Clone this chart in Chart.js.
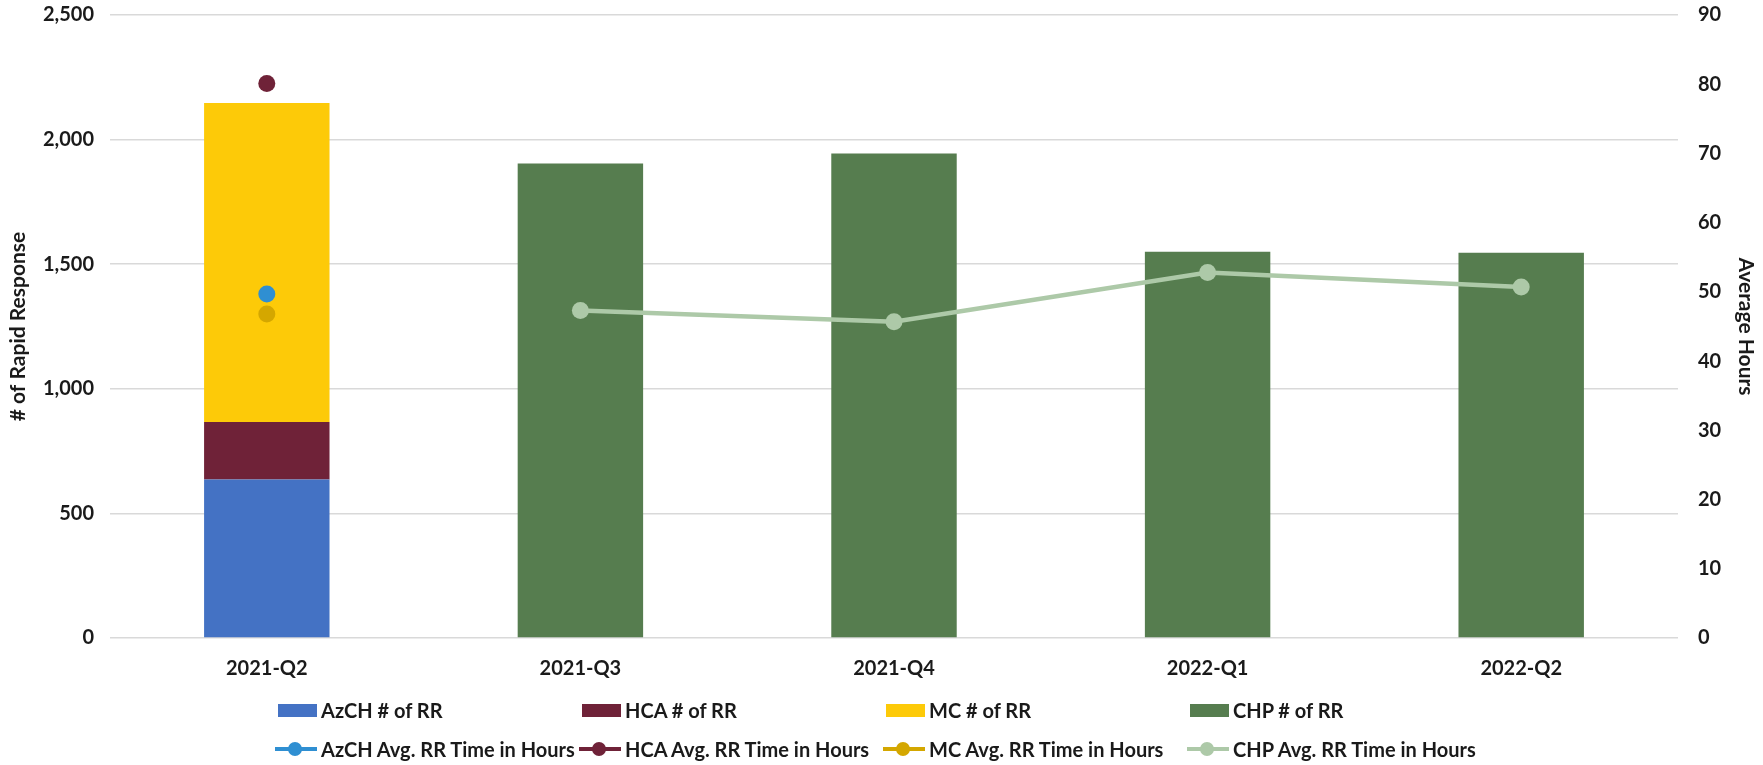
<!DOCTYPE html>
<html lang="en">
<head>
    <meta charset="UTF-8">
    <title>Rapid Response by Quarter</title>
    <script src="https://cdn.jsdelivr.net/npm/chart.js"></script>
    <style>
        body { margin: 0; background: #fff; }
        #wrap { position: relative; width: 1763px; height: 765px; }
        #legend {
            position: absolute; left: 275px; top: 697px;
            display: grid; grid-template-columns: repeat(4, 304px); row-gap: 13px;
            font: bold 20px Lato, sans-serif; color: #1a1a1a;
        }
        .item { display: flex; align-items: center; height: 26px; white-space: nowrap; }
        .icon { position: relative; width: 42px; height: 26px; margin-right: 4px; flex: none; }
        .box { position: absolute; left: 3px; top: 7px; width: 39px; height: 13px; }
        .line { position: absolute; left: 0; top: 11px; width: 42px; height: 4px; }
        .dot { position: absolute; left: 13px; top: 6px; width: 14px; height: 14px; border-radius: 50%; }
    </style>
</head>
<body>
<div id="wrap">
    <canvas id="chart" width="1763" height="765"></canvas>
    <div id="legend"></div>
</div>
<script>
    const quarters = ['2021-Q2', '2021-Q3', '2021-Q4', '2022-Q1', '2022-Q2'];

    // # of rapid responses (left axis)
    const azchCount = [636, null, null, null, null];
    const hcaCount = [231, null, null, null, null];
    const mcCount = [1280, null, null, null, null];
    const chpCount = [null, 1904, 1944, 1550, 1546];

    // average RR time in hours (right axis)
    const azchHours = [49.7, null, null, null, null];
    const hcaHours = [80.1, null, null, null, null];
    const mcHours = [46.8, null, null, null, null];
    const chpHours = [null, 47.3, 45.7, 52.8, 50.7];

    const leftTicks = [0, 500, 1000, 1500, 2000, 2500];
    const rightTicks = [0, 10, 20, 30, 40, 50, 60, 70, 80, 90];

    const txt = '#1a1a1a';
    const tickFont = { family: 'Lato', weight: 'bold', size: 20 };
    const titleFont = { family: 'Lato', weight: 'bold', size: 21 };

    function bar(label, data, color) {
        return { type: 'bar', label, data, backgroundColor: color, yAxisID: 'y', order: 2,
                 barPercentage: 0.4, categoryPercentage: 1.0 };
    }
    function line(label, data, color) {
        return { type: 'line', label, data, borderColor: color, backgroundColor: color, yAxisID: 'y1', order: 1,
                 borderWidth: 4.5, pointRadius: 8.5, pointHoverRadius: 8.5, pointBorderWidth: 0 };
    }

    const datasets = [
        bar('AzCH # of RR', azchCount, '#4472C4'),
        bar('HCA # of RR', hcaCount, '#6F2238'),
        bar('MC # of RR', mcCount, '#FDCA08'),
        bar('CHP # of RR', chpCount, '#567D4F'),
        line('AzCH Avg. RR Time in Hours', azchHours, '#2F8FD2'),
        line('HCA Avg. RR Time in Hours', hcaHours, '#6F2238'),
        line('MC Avg. RR Time in Hours', mcHours, '#D4A700'),
        line('CHP Avg. RR Time in Hours', chpHours, '#ADC9A8')
    ];

    // vertical axes: fixed width, no extra top/bottom padding for the labels
    const fixWidth = w => s => { s.width = w; s.paddingTop = 0; s.paddingBottom = 0; };

    const chart = new Chart(document.getElementById('chart'), {
        data: { labels: quarters, datasets },
        options: {
            responsive: false,
            animation: false,
            layout: { padding: { top: 15, bottom: 87, left: 0, right: 0 } },
            plugins: { legend: { display: false }, tooltip: { enabled: false } },
            scales: {
                x: {
                    stacked: true,
                    grid: { display: false },
                    border: { display: false },
                    ticks: { color: txt, font: tickFont, padding: 11 },
                    afterFit: s => { s.height = 40; }
                },
                y: {
                    stacked: true,
                    position: 'left',
                    min: 0, max: 2500,
                    afterBuildTicks: s => { s.ticks = leftTicks.map(v => ({ value: v })); },
                    grid: { color: '#d9d9d9', lineWidth: 1.5, drawTicks: false },
                    border: { display: false },
                    ticks: { color: txt, font: tickFont, padding: 16,
                             callback: v => v.toLocaleString('en-US') },
                    title: { display: true, text: '# of Rapid Response', color: txt, font: titleFont, padding: 6 },
                    afterFit: fixWidth(110)
                },
                y1: {
                    stacked: false,
                    position: 'right',
                    min: 0, max: 90,
                    afterBuildTicks: s => { s.ticks = rightTicks.map(v => ({ value: v })); },
                    grid: { display: false, drawTicks: false },
                    border: { display: false },
                    ticks: { color: txt, font: tickFont, padding: 20 },
                    title: { display: true, text: 'Average Hours', color: txt, font: titleFont, padding: 5 },
                    afterFit: fixWidth(85)
                }
            }
        }
    });

    // legend in Excel style grid: bars on the first row, lines on the second
    const legend = document.getElementById('legend');
    chart.data.datasets.forEach(ds => {
        const item = document.createElement('div');
        item.className = 'item';
        const icon = document.createElement('span');
        icon.className = 'icon';
        if (ds.type === 'bar') {
            icon.innerHTML = `<span class="box" style="background:${ds.backgroundColor}"></span>`;
        } else {
            icon.innerHTML = `<span class="line" style="background:${ds.borderColor}"></span>` +
                             `<span class="dot" style="background:${ds.borderColor}"></span>`;
        }
        item.appendChild(icon);
        item.appendChild(document.createTextNode(ds.label));
        legend.appendChild(item);
    });
</script>
</body>
</html>
